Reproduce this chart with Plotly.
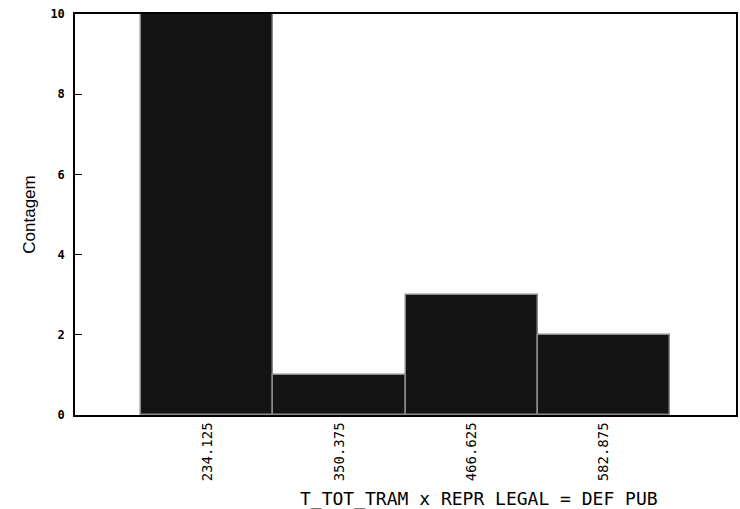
import plotly.graph_objects as go

bin_centers = [234.125, 350.375, 466.625, 582.875]
counts = [10, 1, 3, 2]
tick_labels = ["234.125", "350.375", "466.625", "582.875"]
y_ticks = [0, 2, 4, 6, 8, 10]
bin_width = 116.25

x_title = "T_TOT_TRAM x REPR LEGAL = DEF PUB"
y_title = "Contagem"

mono = "DejaVu Sans Mono"

fig = go.Figure()
fig.add_trace(go.Bar(
    x=bin_centers, y=counts, width=[bin_width] * len(counts),
    marker=dict(color="#141414", line=dict(color="#8a8a8a", width=1.5)),
    hoverinfo="x+y",
))

fig.update_layout(
    width=740, height=509,
    margin=dict(l=75, r=2, t=14, b=94),
    paper_bgcolor="white", plot_bgcolor="white",
    showlegend=False,
    bargap=0,
    xaxis=dict(
        range=[bin_centers[0] - bin_width, bin_centers[-1] + bin_width],
        tickmode="array", tickvals=bin_centers, ticktext=tick_labels,
        tickangle=-90, ticks="", showgrid=False, zeroline=False,
        showline=True, linecolor="black", linewidth=1.5, mirror=True,
        tickfont=dict(family=mono, size=14, color="black"),
    ),
    yaxis=dict(
        range=[0, 10], tickmode="array", tickvals=y_ticks,
        ticks="inside", ticklen=7, tickcolor="black", tickwidth=1,
        ticklabelstandoff=6,
        showgrid=False, zeroline=False,
        showline=True, linecolor="black", linewidth=1.5, mirror=True,
        tickfont=dict(family=mono, size=12, color="black", weight="bold"),
        title=dict(text=y_title, font=dict(family="Liberation Sans", size=17, color="black"), standoff=10),
    ),
    annotations=[dict(
        text=x_title, xref="paper", yref="paper", x=0.611, y=-0.176,
        xanchor="center", yanchor="top", showarrow=False,
        font=dict(family=mono, size=18, color="black"),
    )],
)

fig.write_html("out.html")
